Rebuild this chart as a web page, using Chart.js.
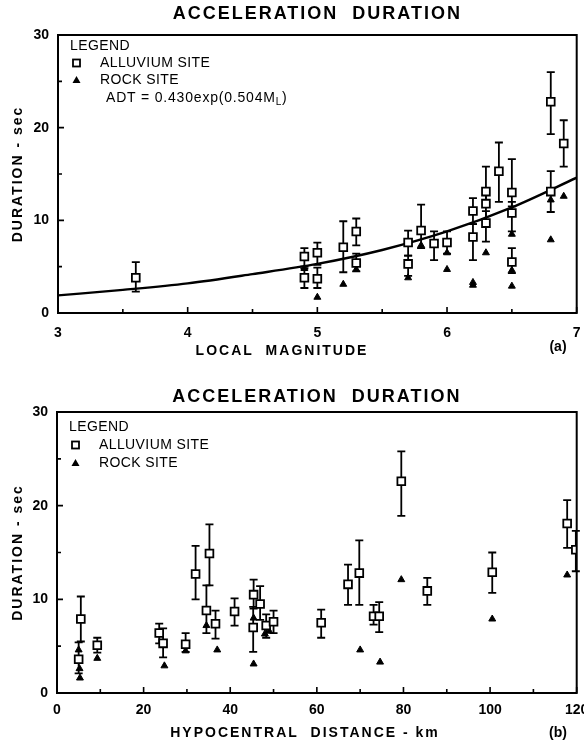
<!DOCTYPE html>
<html lang="en">
<head>
<meta charset="UTF-8">
<title>Acceleration Duration</title>
<script src="https://cdn.jsdelivr.net/npm/chart.js"></script>
<style>
  body { margin: 0; background: #fff; }
  .chart-box { position: absolute; left: 0; width: 584px; }
  #boxA { top: 0; height: 372px; }
  #boxB { top: 372px; height: 373px; }
</style>
</head>
<body>
<div class="chart-box" id="boxA"><canvas id="chartA" width="584" height="372"></canvas></div>
<div class="chart-box" id="boxB"><canvas id="chartB" width="584" height="373"></canvas></div>
<script>
// (a) duration vs local magnitude
const magAlluvium = [3.6, 4.9, 4.9, 5.0, 5.0, 5.2, 5.3, 5.3, 5.7, 5.7, 5.8, 5.9, 6.0, 6.2, 6.2, 6.3, 6.3, 6.3, 6.4, 6.5, 6.5, 6.5, 6.8, 6.8, 6.9];
const durAlluvium = [3.8, 6.1, 3.8, 6.5, 3.7, 7.1, 8.8, 5.4, 7.6, 5.3, 8.9, 7.5, 7.6, 11.0, 8.2, 13.1, 11.8, 9.7, 15.3, 13.0, 10.8, 5.5, 22.8, 13.1, 18.3];
const durAlluviumHigh = [5.5, 7.0, 4.8, 7.6, 4.9, 9.9, 10.2, 6.4, 8.9, 6.2, 11.7, 8.8, 8.8, 12.4, 9.6, 15.8, 13.5, 11.0, 18.4, 16.6, 12.0, 7.0, 26.0, 15.3, 20.8];
const durAlluviumLow = [2.3, 5.0, 2.7, 5.2, 2.7, 4.4, 7.3, 4.5, 6.2, 4.0, 7.0, 5.7, 6.4, 9.6, 5.7, 11.8, 10.0, 7.7, 12.0, 11.5, 8.8, 4.3, 19.3, 10.9, 15.8];
const magRock = [4.9, 5.0, 5.2, 5.3, 5.7, 5.8, 6.0, 6.0, 6.2, 6.2, 6.3, 6.5, 6.5, 6.5, 6.8, 6.8, 6.9];
const durRock = [4.8, 1.7, 3.1, 4.7, 3.8, 7.3, 6.5, 4.7, 3.0, 3.3, 6.5, 8.5, 4.6, 2.9, 12.2, 7.9, 12.6];
// ADT = 0.430exp(0.504ML)
const fitMag = [3, 3.5, 4, 4.5, 5, 5.5, 6, 6.5, 7];
const fitDur = [1.9, 2.5, 3.2, 4.2, 5.3, 6.8, 8.8, 11.4, 14.6];

// (b) duration vs hypocentral distance
const distAlluvium = [5.0, 5.5, 9.3, 23.6, 24.5, 29.7, 32.0, 34.5, 35.2, 36.6, 41.0, 45.4, 45.3, 46.9, 48.3, 50.0, 61.0, 67.2, 69.8, 73.1, 74.4, 79.5, 85.5, 100.5, 117.8, 119.8];
const durDistAlluvium = [3.6, 7.9, 5.1, 6.4, 5.3, 5.2, 12.7, 8.8, 14.9, 7.4, 8.7, 10.5, 7.0, 9.5, 7.2, 7.6, 7.5, 11.6, 12.8, 8.2, 8.2, 22.6, 10.9, 12.9, 18.1, 15.3];
const durDistAlluviumHigh = [5.4, 10.3, 5.9, 7.4, 6.9, 6.4, 15.7, 11.5, 18.0, 8.8, 10.1, 12.1, 9.2, 11.4, 8.4, 8.8, 8.9, 13.7, 16.3, 9.4, 9.7, 25.8, 12.3, 15.0, 20.6, 17.3];
const durDistAlluviumLow = [2.1, 5.5, 4.3, 5.3, 3.8, 4.4, 10.0, 6.4, 11.5, 5.8, 7.2, 9.0, 4.4, 7.8, 5.9, 6.4, 5.9, 9.4, 9.4, 7.3, 6.5, 18.9, 9.4, 10.7, 15.5, 13.0];
const distRock = [5.0, 5.2, 5.3, 9.3, 24.8, 29.7, 34.5, 37.0, 45.4, 45.4, 48.0, 49.0, 70.0, 74.6, 79.5, 100.5, 117.8];
const durDistRock = [4.6, 2.6, 1.6, 3.7, 2.9, 4.5, 7.2, 4.6, 8.0, 3.1, 6.3, 6.6, 4.6, 3.3, 12.1, 7.9, 12.6];

const durationTicks = [0, 10, 20, 30];

Chart.defaults.font.family = '"Liberation Sans", Arial, sans-serif';
Chart.defaults.color = '#000';

function pairs(xs, ys) {
    return xs.map((x, i) => ({x: x, y: ys[i]}));
}

// vertical error bars with caps, drawn under the markers
const errorBars = {
    id: 'errorBars',
    beforeDatasetsDraw(chart) {
        const ctx = chart.ctx;
        const y = chart.scales.y;
        chart.data.datasets.forEach((ds, i) => {
            if (!ds.errHigh) return;
            const meta = chart.getDatasetMeta(i);
            ctx.save();
            ctx.strokeStyle = '#000';
            ctx.lineWidth = 1.8;
            meta.data.forEach((pt, j) => {
                const yh = y.getPixelForValue(ds.errHigh[j]);
                const yl = y.getPixelForValue(ds.errLow[j]);
                ctx.beginPath();
                ctx.moveTo(pt.x, yh); ctx.lineTo(pt.x, yl);
                ctx.moveTo(pt.x - 4, yh); ctx.lineTo(pt.x + 4, yh);
                ctx.moveTo(pt.x - 4, yl); ctx.lineTo(pt.x + 4, yl);
                ctx.stroke();
            });
            ctx.restore();
        });
    }
};

// box round the plot and inward tick marks
const frame = {
    id: 'frame',
    afterDraw(chart) {
        const {ctx, chartArea: a, scales: {x, y}} = chart;
        ctx.save();
        ctx.strokeStyle = '#000';
        ctx.lineWidth = 2;
        ctx.strokeRect(a.left, a.top, a.right - a.left, a.bottom - a.top);
        ctx.lineWidth = 1.6;
        ctx.beginPath();
        x.ticks.forEach(t => {
            const px = x.getPixelForValue(t.value);
            const len = t.label !== '' ? 6 : 4;
            ctx.moveTo(px, a.bottom); ctx.lineTo(px, a.bottom - len);
        });
        y.ticks.forEach(t => {
            const py = y.getPixelForValue(t.value);
            const len = t.label !== '' ? 6 : 4;
            ctx.moveTo(a.left, py); ctx.lineTo(a.left + len, py);
        });
        ctx.stroke();
        ctx.restore();
    }
};

// titles, legend block and panel tag
const panelText = {
    id: 'panelText',
    afterDraw(chart, args, opts) {
        const {ctx, chartArea: a} = chart;
        ctx.save();
        ctx.fillStyle = '#000';
        ctx.strokeStyle = '#000';
        ctx.textBaseline = 'middle';

        ctx.letterSpacing = '2px';
        ctx.textAlign = 'center';
        ctx.font = 'bold 18px "Liberation Sans", Arial, sans-serif';
        ctx.fillText(opts.title, (a.left + a.right) / 2, opts.titleY);
        ctx.font = 'bold 14px "Liberation Sans", Arial, sans-serif';
        ctx.fillText(opts.xTitle, opts.xTitleX, opts.xTitleY);
        ctx.save();
        ctx.translate(18, (a.top + a.bottom) / 2);
        ctx.rotate(-Math.PI / 2);
        ctx.fillText('DURATION - sec', 0, 0);
        ctx.restore();
        ctx.letterSpacing = '0px';
        ctx.font = 'bold 14px "Liberation Sans", Arial, sans-serif';
        ctx.fillText(opts.tag, 558, opts.tagY);

        // legend
        ctx.textAlign = 'left';
        ctx.letterSpacing = '0.4px';
        const legendFont = '14px "Liberation Sans Narrow", "Liberation Sans", Arial, sans-serif';
        ctx.font = legendFont;
        const x0 = a.left + 12;
        const r = opts.legendRows.map(v => a.top + v);
        ctx.fillText('LEGEND', x0, r[0]);
        ctx.lineWidth = 1.8;
        ctx.strokeRect(x0 + 3, r[1] - 3.5, 7, 7);
        ctx.fillText('ALLUVIUM SITE', x0 + 30, r[1]);
        ctx.beginPath();
        ctx.moveTo(x0 + 6.5, r[2] - 4); ctx.lineTo(x0 + 10.5, r[2] + 3); ctx.lineTo(x0 + 2.5, r[2] + 3);
        ctx.closePath(); ctx.fill();
        ctx.fillText('ROCK SITE', x0 + 30, r[2]);
        if (opts.equation) {
            const base = 'ADT = 0.430exp(0.504M';
            ctx.letterSpacing = '0.8px';
            ctx.fillText(base, x0 + 36, r[3]);
            const w = ctx.measureText(base).width;
            ctx.font = '10px "Liberation Sans Narrow", "Liberation Sans", Arial, sans-serif';
            ctx.fillText('L', x0 + 36 + w, r[3] + 4);
            const wl = ctx.measureText('L').width;
            ctx.font = legendFont;
            ctx.fillText(')', x0 + 36 + w + wl, r[3]);
        }
        ctx.restore();
    }
};

function makeChart(id, cfg) {
    const datasets = [
        {
            label: 'ALLUVIUM SITE',
            data: pairs(cfg.ax, cfg.ay),
            errHigh: cfg.aHigh,
            errLow: cfg.aLow,
            pointStyle: 'rect',
            pointRadius: 5.5,
            pointBorderWidth: 1.8,
            pointBorderColor: '#000',
            pointBackgroundColor: '#fff'
        },
        {
            label: 'ROCK SITE',
            data: pairs(cfg.rx, cfg.ry),
            pointStyle: 'triangle',
            pointRadius: 4,
            pointBorderWidth: 1,
            pointBorderColor: '#000',
            pointBackgroundColor: '#000'
        }
    ];
    if (cfg.fx) {
        datasets.push({
            label: 'ADT',
            data: pairs(cfg.fx, cfg.fy),
            showLine: true,
            borderColor: '#000',
            borderWidth: 2.4,
            pointRadius: 0,
            cubicInterpolationMode: 'monotone'
        });
    }
    return new Chart(document.getElementById(id), {
        type: 'scatter',
        data: {datasets: datasets},
        plugins: [errorBars, frame, panelText],
        options: {
            responsive: false,
            animation: false,
            devicePixelRatio: 1,
            layout: {padding: {top: cfg.top, right: cfg.right, left: 0, bottom: 0}},
            scales: {
                x: {
                    type: 'linear',
                    min: cfg.xMin,
                    max: cfg.xMax,
                    grid: {display: false},
                    border: {display: false},
                    ticks: {
                        stepSize: cfg.xStep,
                        autoSkip: false,
                        maxRotation: 0,
                        padding: cfg.xPad,
                        font: {size: 14, weight: 'bold'},
                        callback: cfg.xLabel
                    },
                    afterFit(s) { s.height = cfg.xHeight; s.paddingLeft = 0; s.paddingRight = 0; }
                },
                y: {
                    type: 'linear',
                    min: 0,
                    max: 30,
                    grid: {display: false},
                    border: {display: false},
                    ticks: {
                        stepSize: 5,
                        autoSkip: false,
                        padding: 1,
                        font: {size: 14, weight: 'bold'},
                        callback: v => durationTicks.includes(v) ? v : ''
                    },
                    afterFit(s) { s.width = cfg.yWidth; s.paddingTop = 0; s.paddingBottom = 0; }
                }
            },
            plugins: {
                legend: {display: false},
                tooltip: {enabled: false},
                panelText: cfg.text
            }
        }
    });
}

makeChart('chartA', {
    ax: magAlluvium, ay: durAlluvium, aHigh: durAlluviumHigh, aLow: durAlluviumLow,
    rx: magRock, ry: durRock, fx: fitMag, fy: fitDur,
    top: 35, right: 2, yWidth: 58, xHeight: 59, xPad: 4,
    xMin: 3, xMax: 7, xStep: 0.5,
    xLabel: v => Number.isInteger(v) ? v : '',
    text: {
        title: 'ACCELERATION  DURATION', titleY: 14,
        xTitle: 'LOCAL  MAGNITUDE', xTitleX: 282, xTitleY: 351,
        tag: '(a)', tagY: 347,
        legendRows: [11, 28, 45, 63], equation: true
    }
});

makeChart('chartB', {
    ax: distAlluvium, ay: durDistAlluvium, aHigh: durDistAlluviumHigh, aLow: durDistAlluviumLow,
    rx: distRock, ry: durDistRock,
    top: 40, right: 6, yWidth: 57, xHeight: 52, xPad: 1,
    xMin: 0, xMax: 120, xStep: 10,
    xLabel: v => v % 20 === 0 ? v : '',
    text: {
        title: 'ACCELERATION  DURATION', titleY: 25,
        xTitle: 'HYPOCENTRAL  DISTANCE - km', xTitleX: 305, xTitleY: 361,
        tag: '(b)', tagY: 361,
        legendRows: [15, 33, 51], equation: false
    }
});
</script>
</body>
</html>
